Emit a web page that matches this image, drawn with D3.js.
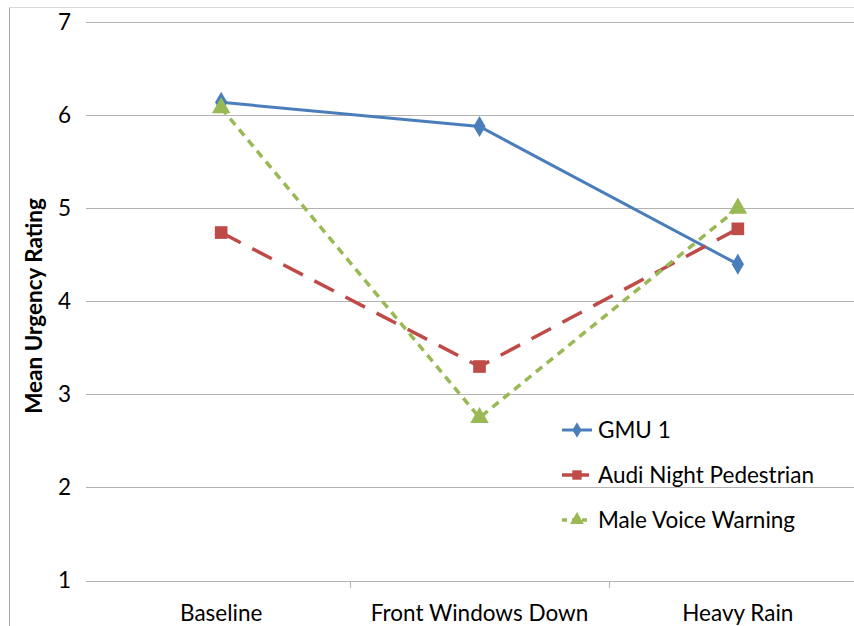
<!DOCTYPE html>
<html><head><meta charset="utf-8">
<script src="https://cdn.jsdelivr.net/npm/d3@7"></script>
<style>body{margin:0;background:#fff}svg{display:block}text{font-family:Lato,"Open Sans",sans-serif;fill:#000}</style>
</head><body><svg id="c" width="854" height="626"></svg>
<script>
const categories = ["Baseline", "Front Windows Down", "Heavy Rain"];
const gmu1 = [6.14, 5.88, 4.40];
const audiNight = [4.74, 3.30, 4.78];
const maleVoice = [6.08, 2.75, 5.00];
const yTicks = [1, 2, 3, 4, 5, 6, 7];
const seriesNames = ["GMU 1", "Audi Night Pedestrian", "Male Voice Warning"];

const series = [
  {name: seriesNames[0], values: gmu1, color: "#4a7ebb", dash: null, marker: d3.symbolDiamond, msize: 130, width: 3},
  {name: seriesNames[1], values: audiNight, color: "#be4b48", dash: "22,13", marker: d3.symbolSquare, msize: 160, width: 3.5},
  {name: seriesNames[2], values: maleVoice, color: "#98b954", dash: "8,6", marker: d3.symbolTriangle, msize: 150, width: 3.5}
];

const svg = d3.select("#c");
const x = d3.scaleBand().domain(categories).range([92, 867]);
const y = d3.scaleLinear().domain([1, 7]).range([580.5, 22.3]);

// border
svg.append("line").attr("x1", 9.5).attr("x2", 9.5).attr("y1", 7.5).attr("y2", 626).attr("stroke", "#a6a6a6").attr("stroke-width", 1);
svg.append("line").attr("x1", 9.5).attr("x2", 854).attr("y1", 7.5).attr("y2", 7.5).attr("stroke", "#d9d9d9").attr("stroke-width", 1);

// gridlines
svg.append("g").selectAll("line").data(yTicks).join("line")
  .attr("x1", 86).attr("x2", 867)
  .attr("y1", d => Math.round(y(d)) + 0.5).attr("y2", d => Math.round(y(d)) + 0.5)
  .attr("stroke", "#b3b3b3").attr("stroke-width", 1);

// y axis labels
const yAxis = d3.axisLeft(y).tickValues(yTicks).tickSize(0).tickPadding(0).tickFormat(d3.format("d"));
const gy = svg.append("g").attr("transform", "translate(71,0)").call(yAxis);
gy.select(".domain").remove();
gy.selectAll("text").style("font-size", "22.5px").style("font-family", "Lato, 'Open Sans', sans-serif").attr("fill", "#000");

// x axis
const xAxis = d3.axisBottom(x).tickSize(0).tickPadding(0);
const gx = svg.append("g").attr("transform", "translate(0,580.5)").call(xAxis);
gx.select(".domain").remove();
gx.selectAll("text").attr("dy", "0").attr("y", 40).style("font-size", "22.5px").style("font-family", "Lato, 'Open Sans', sans-serif").attr("fill", "#000");
// category separator ticks
svg.append("g").selectAll("line").data(categories.slice(1)).join("line")
  .attr("x1", d => Math.round(x(d)) + 0.5).attr("x2", d => Math.round(x(d)) + 0.5)
  .attr("y1", 581).attr("y2", 588).attr("stroke", "#b3b3b3");

// y title
svg.append("text").attr("transform", "translate(42,306) rotate(-90)")
  .attr("text-anchor", "middle").style("font-size", "22.5px").style("font-weight", "bold").text("Mean Urgency Rating");

// lines
const cx = c => x(c) + x.bandwidth() / 2;
series.forEach(s => {
  const line = d3.line().x((d, i) => cx(categories[i])).y(d => y(d));
  svg.append("path").datum(s.values).attr("d", line).attr("fill", "none")
    .attr("stroke", s.color).attr("stroke-width", s.width).attr("stroke-dasharray", s.dash);
});
series.forEach(s => {
  svg.append("g").selectAll("path").data(s.values).join("path")
    .attr("d", d3.symbol().type(s.marker).size(s.msize))
    .attr("transform", (d, i) => `translate(${cx(categories[i])},${y(d)})`)
    .attr("fill", s.color);
});

// legend
const legendY = [430, 475, 520];
series.forEach((s, i) => {
  const g = svg.append("g").attr("transform", `translate(562,${legendY[i]})`);
  g.append("line").attr("x1", 0).attr("x2", 30).attr("y1", 0).attr("y2", 0)
    .attr("stroke", s.color).attr("stroke-width", s.width).attr("stroke-dasharray", s.dash ? (i === 1 ? "12,3" : "5,5") : null);
  g.append("path").attr("d", d3.symbol().type(s.marker).size(s.msize * 0.55)).attr("transform", "translate(15,0)").attr("fill", s.color);
  g.append("text").attr("x", 36).attr("y", 8).style("font-size", "22.5px").text(s.name);
});
</script></body></html>
